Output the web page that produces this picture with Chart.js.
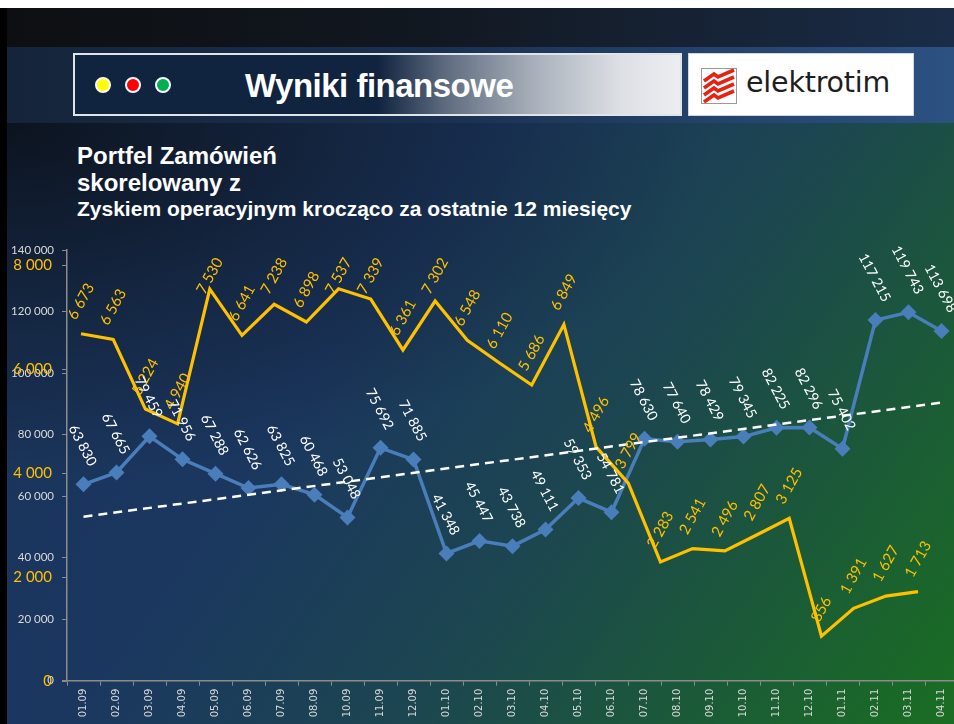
<!DOCTYPE html>
<html>
<head>
<meta charset="utf-8">
<script src="https://cdn.jsdelivr.net/npm/chart.js@4.4.1/dist/chart.umd.min.js"></script>
<style>
  html, body { margin:0; padding:0; }
  body { width:954px; height:724px; overflow:hidden; background:#fff; }
  #stage { position:relative; width:954px; height:724px; overflow:hidden; background:#fff; }
  .abs { position:absolute; }
  #leftstrip { left:0; top:8px; width:7px; height:716px; background:#000; }
  #band1 { left:7px; top:8px; width:947px; height:39px;
    background:linear-gradient(to right, #0d0f12 0%, #121821 45%, #1a2c47 100%); }
  #band2 { left:7px; top:47px; width:947px; height:76px;
    background:linear-gradient(to right, #15243a 0%, #1b3050 45%, #2c5282 100%); }
  #main { left:7px; top:123px; width:947px; height:601px;
    background:
      radial-gradient(ellipse 75% 60% at 0% 0%, rgba(10,14,22,0.85) 0%, rgba(10,14,22,0.35) 55%, rgba(10,14,22,0) 100%),
      linear-gradient(125deg, #1a3358 0%, #1b3760 35%, #1c4650 60%, #1b5a38 80%, #1a6e22 100%); }
  #hbox { left:73px; top:53px; width:605px; height:59px; border:2px solid #dfe3ea;
    background:linear-gradient(to right, #10233f 0%, #10233f 50%, #5d6a7e 61%, #a9b0bb 76%, #dcdfe4 90%, #eceef1 100%); }
  .dot { position:absolute; width:12px; height:12px; border-radius:50%; border:2px solid #fff; top:22px; }
  #htitle { left:170px; top:11px; font-family:"Liberation Sans", Arial, sans-serif; font-weight:bold;
    font-size:33px; letter-spacing:-0.5px; color:#fff; line-height:40px; white-space:nowrap; }
  #logo { left:688px; top:53px; width:224px; height:61px; background:#fff; border:1px solid #cfd6e0; }
  #logotext { left:57px; top:10px; font-family:"DejaVu Sans", sans-serif; font-size:28.5px; color:#1e1e1e; line-height:38px; letter-spacing:-0.2px; }
  .t { position:absolute; left:77px; font-family:"Liberation Sans", Arial, sans-serif; font-weight:bold; color:#fff; line-height:1; white-space:nowrap; }
  #chartwrap { position:absolute; left:0; top:0; width:970px; height:724px; }
</style>
</head>
<body>
<div id="stage">
  <div class="abs" id="leftstrip"></div>
  <div class="abs" id="band1"></div>
  <div class="abs" id="band2"></div>
  <div class="abs" id="main"></div>

  <div class="abs" id="hbox">
    <div class="dot" style="left:20px;background:#ffff00;"></div>
    <div class="dot" style="left:50px;background:#ff0000;"></div>
    <div class="dot" style="left:80px;background:#00b050;"></div>
    <div class="abs" id="htitle">Wyniki finansowe</div>
  </div>

  <div class="abs" id="logo">
    <svg class="abs" style="left:12px;top:14px" width="36" height="36" viewBox="0 0 36 36">
      <rect x="0.5" y="0.5" width="35" height="35" fill="#fff" stroke="#9a9a9a" stroke-width="1"/>
      <g stroke="#e42313" stroke-width="3.6" fill="none" stroke-linejoin="miter">
        <polyline points="3,13 13,6 17,9 33,2"/>
        <polyline points="3,20 13,13 17,16 33,9"/>
        <polyline points="3,27 13,20 17,23 33,16"/>
        <polyline points="3,34 13,27 17,30 33,23"/>
      </g>
    </svg>
    <div class="abs" id="logotext">elektrotim</div>
  </div>

  <div class="t" style="top:144px;font-size:24px;">Portfel Zamówień</div>
  <div class="t" style="top:171px;font-size:24px;">skorelowany z</div>
  <div class="t" style="top:198px;font-size:21px;">Zyskiem operacyjnym krocząco za ostatnie 12 miesięcy</div>

  <div id="chartwrap"><canvas id="c" width="970" height="724" style="width:970px;height:724px;"></canvas></div>
</div>

<script>
// ---- data ----
const categories = ['01.09','02.09','03.09','04.09','05.09','06.09','07.09','08.09','10.09','11.09','12.09',
  '01.10','02.10','03.10','04.10','05.10','06.10','07.10','08.10','09.10','10.10','11.10','12.10',
  '01.11','02.11','03.11','04.11'];
const orderBook = [63830,67665,79459,71956,67288,62626,63825,60468,53048,75692,71885,
  41348,45447,43738,49111,59353,54781,78630,77640,78429,79345,82225,82296,
  75402,117215,119743,113698];
const operatingProfit = [6673,6563,5224,4940,7530,6641,7238,6898,7537,7339,6361,
  7302,6548,6110,5686,6849,4496,3799,2283,2541,2496,2807,3125,
  856,1391,1627,1713];
const trendEnds = [53300, 90400];          // dashed trend line, first and last category
const leftAxisMax = 140000, leftAxisStep = 20000;
const rightTicks = [0, 2000, 4000, 6000, 8000];
const rightAxisMax = 8283;

const fmt = v => String(v).replace(/\B(?=(\d{3})+(?!\d))/g, ' ');

const labelPlugin = {
  id: 'valueLabels',
  afterDatasetsDraw(chart) {
    const ctx = chart.ctx;
    chart.data.datasets.forEach((ds, di) => {
      const cfg = ds.labelCfg;
      if (!cfg) return;
      const meta = chart.getDatasetMeta(di);
      meta.data.forEach((pt, i) => {
        const raw = ds.data[i];
        const val = (typeof raw === 'object') ? raw.y : raw;
        const txt = fmt(val);
        ctx.save();
        ctx.font = cfg.font;
        const w = ctx.measureText(txt).width;
        const a = cfg.angle * Math.PI / 180;
        const ext = w * Math.abs(Math.sin(a)) + cfg.h * Math.abs(Math.cos(a));
        let cy = pt.y - cfg.gap - ext / 2;
        if (cfg.minTop != null) cy = Math.max(cy, chart.chartArea.top + cfg.minTop);
        ctx.translate(pt.x + (cfg.dx || 0), cy);
        ctx.rotate(a);
        ctx.textAlign = 'center';
        ctx.textBaseline = 'middle';
        ctx.fillStyle = cfg.color;
        ctx.fillText(txt, 0, 0);
        ctx.restore();
      });
    });
  }
};

const rightAxisPlugin = {
  id: 'rightAxisOnLeft',
  afterDraw(chart) {
    const ctx = chart.ctx;
    const s = chart.scales.y2;
    const left = chart.chartArea.left;
    ctx.save();
    ctx.strokeStyle = '#8c8c8c';
    ctx.lineWidth = 1;
    ctx.font = '15px Lato';
    ctx.fillStyle = '#FFC000';
    ctx.textAlign = 'right';
    ctx.textBaseline = 'middle';
    rightTicks.forEach(v => {
      const y = Math.round(s.getPixelForValue(v)) + 0.5;
      ctx.beginPath(); ctx.moveTo(left - 5, y); ctx.lineTo(left, y); ctx.stroke();
      ctx.fillText(fmt(v), 52, y);
    });
    ctx.restore();
  }
};

Chart.defaults.font.family = 'Lato';

new Chart(document.getElementById('c'), {
  type: 'line',
  data: {
    labels: categories,
    datasets: [
      {
        label: 'Trend',
        data: [{x: categories[0], y: trendEnds[0]}, {x: categories[categories.length - 1], y: trendEnds[1]}],
        xAxisID: 'x', yAxisID: 'y',
        borderColor: '#ffffff', borderWidth: 2.5, borderDash: [9, 6],
        pointRadius: 0, fill: false
      },
      {
        label: 'Zysk operacyjny',
        data: operatingProfit.map((v, i) => ({x: i, y: v})),
        xAxisID: 'x2', yAxisID: 'y2',
        borderColor: '#FFC000', borderWidth: 3.2, pointRadius: 0, fill: false,
        labelCfg: {font: '15px Lato', color: '#FFC000', angle: -61, gap: 13, h: 10, minTop: 26}
      },
      {
        label: 'Portfel zamówień',
        data: orderBook,
        xAxisID: 'x', yAxisID: 'y',
        borderColor: '#4a7ebb', borderWidth: 3.5,
        pointStyle: 'rectRot', pointRadius: 8,
        pointBackgroundColor: '#4a7ebb', pointBorderColor: '#4a7ebb', pointBorderWidth: 0,
        fill: false,
        labelCfg: {font: '14px Lato', color: '#ffffff', angle: 62, gap: 17, h: 10, dx: -1}
      }
    ]
  },
  options: {
    responsive: false,
    animation: false,
    layout: { padding: { left: 0, top: 250, right: 12, bottom: 0 } },
    plugins: { legend: { display: false }, tooltip: { enabled: false } },
    scales: {
      x: {
        type: 'category',
        offset: true,
        grid: { display: true, drawOnChartArea: false, drawTicks: true, tickLength: 5, color: '#8c8c8c', offset: true },
        border: { display: true, color: '#8c8c8c', width: 1.5 },
        ticks: { color: '#d8d8d8', font: { family: 'DejaVu Sans', size: 10 }, minRotation: 90, maxRotation: 90, padding: 3, autoSkip: false },
        afterFit(scale) { scale.height = 43.3; }
      },
      x2: { type: 'linear', display: false, min: -0.435, max: 27.242 },
      y: {
        position: 'left',
        min: 0, max: leftAxisMax,
        grid: { display: true, drawOnChartArea: false, drawTicks: true, tickLength: 5, color: '#8c8c8c' },
        border: { display: true, color: '#8c8c8c', width: 1.5 },
        ticks: { stepSize: leftAxisStep, color: '#d9d9d9', font: { family: 'Lato', size: 11.5 }, padding: 8, callback: v => fmt(v) },
        afterFit(scale) { scale.width = 67; }
      },
      y2: { type: 'linear', display: false, min: 0, max: rightAxisMax }
    }
  },
  plugins: [labelPlugin, rightAxisPlugin]
});
</script>
</body>
</html>
